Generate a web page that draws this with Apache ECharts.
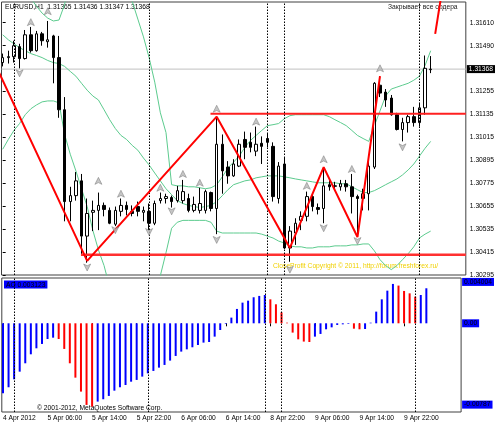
<!DOCTYPE html>
<html><head><meta charset="utf-8">
<script src="https://cdn.jsdelivr.net/npm/echarts@6/dist/echarts.min.js"></script>
<style>html,body{margin:0;padding:0;background:#fff}#c{width:497px;height:426px}</style>
</head><body><div id="c"></div>
<script>
// ---- price bars (bar index 0 = 4 Apr 2012 22:00, H1) ----
const opens = [
1.31402,1.31428,1.31433,1.31485,1.31423,1.31547,1.31464,1.31552,1.31511,1.31541,
1.31428,1.31156,1.30677,1.30708,1.30785,1.30497,1.30621,1.30631,1.30657,1.30631,
1.30559,1.30626,1.30657,1.30626,1.30651,1.30621,1.30626,1.30564,1.30682,1.30693,
1.30698,1.30682,1.30682,1.30693,1.30631,1.30631,1.30631,1.30724,1.30641,1.30976,
1.30857,1.30811,1.30862,1.31001,1.30986,1.30940,1.30981,1.31006,1.30965,1.30693,
1.30873,1.30435,1.30513,1.30579,1.30600,1.30703,1.30646,1.30641,1.30765,1.30759,
1.30754,1.30770,1.30754,1.30703,1.30693,1.30718,1.30857,1.31284,1.31248,1.31217,
1.31130,1.31053,1.31089,1.31120,1.31089,1.31166,1.31365];
const closes = [
1.31428,1.31433,1.31490,1.31423,1.31547,1.31464,1.31552,1.31516,1.31521,1.31428,
1.31156,1.30677,1.30708,1.30785,1.30497,1.30615,1.30631,1.30657,1.30636,1.30564,
1.30631,1.30657,1.30636,1.30615,1.30626,1.30631,1.30564,1.30667,1.30693,1.30703,
1.30677,1.30734,1.30729,1.30631,1.30662,1.30667,1.30729,1.30641,1.30976,1.30837,
1.30811,1.30873,1.30976,1.30960,1.30960,1.30976,1.30965,1.30986,1.30703,1.30862,
1.30435,1.30523,1.30564,1.30600,1.30703,1.30651,1.30636,1.30759,1.30754,1.30757,
1.30770,1.30754,1.30703,1.30693,1.30718,1.30862,1.31294,1.31243,1.31207,1.31130,
1.31053,1.31089,1.31120,1.31089,1.31166,1.31372,1.31368];
const lows = [
1.31382,1.31397,1.31402,1.31372,1.31418,1.31454,1.31459,1.31490,1.31480,1.31294,
1.31114,1.30574,1.30574,1.30682,1.30399,1.30358,1.30523,1.30528,1.30600,1.30559,
1.30549,1.30600,1.30605,1.30600,1.30600,1.30574,1.30528,1.30554,1.30667,1.30667,
1.30646,1.30672,1.30667,1.30621,1.30621,1.30615,1.30615,1.30626,1.30507,1.30718,
1.30770,1.30806,1.30857,1.30898,1.30934,1.30914,1.30873,1.30960,1.30677,1.30667,
1.30430,1.30363,1.30451,1.30528,1.30574,1.30626,1.30610,1.30564,1.30734,1.30734,
1.30734,1.30729,1.30615,1.30497,1.30631,1.30631,1.30847,1.31222,1.31171,1.31125,
1.31048,1.30991,1.31037,1.31068,1.31068,1.31130,1.31347];
const highs = [
1.31449,1.31464,1.31516,1.31500,1.31572,1.31588,1.31567,1.31562,1.31619,1.31547,
1.31541,1.31222,1.30754,1.30831,1.30821,1.30693,1.30682,1.30724,1.30672,1.30646,
1.30651,1.30693,1.30677,1.30657,1.30677,1.30651,1.30667,1.30682,1.30724,1.30718,
1.30708,1.30759,1.30790,1.30718,1.30703,1.30749,1.30739,1.30729,1.31120,1.31027,
1.30888,1.30898,1.31001,1.31042,1.31037,1.31068,1.31017,1.31032,1.30986,1.30883,
1.30909,1.30549,1.30590,1.30626,1.30729,1.30718,1.30667,1.30847,1.30795,1.30780,
1.30790,1.30790,1.30821,1.30713,1.30744,1.30883,1.31300,1.31331,1.31264,1.31233,
1.31140,1.31114,1.31130,1.31171,1.31192,1.31439,1.31436];

// ---- bands (green lines) ----
const bandUpper = [
1.31824,1.31814,1.31799,1.31783,1.31763,1.31737,1.31696,1.31660,1.31634,1.31619,
1.31624,1.31706,1.31850,1.31927,1.32030,1.32133,1.32184,1.32210,1.32210,1.32184,
1.32107,1.31979,1.31850,1.31721,1.31629,1.31536,1.31428,1.31300,1.31140,1.31037,
1.30765,1.30759,1.30759,1.30754,1.30754,1.30749,1.30744,1.30749,1.30765,1.30806,
1.30852,1.30883,1.30914,1.30960,1.30996,1.31022,1.31048,1.31073,1.31078,1.31084,
1.31109,1.31125,1.31130,1.31130,1.31130,1.31130,1.31130,1.31130,1.31120,1.31104,
1.31089,1.31073,1.31048,1.31022,1.31006,1.30991,1.31073,1.31150,1.31228,1.31264,
1.31274,1.31284,1.31294,1.31310,1.31331,1.31387,1.31464];
const bandMiddle = [
1.31547,1.31521,1.31500,1.31480,1.31464,1.31449,1.31439,1.31428,1.31413,1.31402,
1.31397,1.31382,1.31356,1.31331,1.31294,1.31258,1.31228,1.31207,1.31156,1.31104,
1.31058,1.31022,1.31001,1.30970,1.30945,1.30904,1.30868,1.30826,1.30785,1.30744,
1.30713,1.30682,1.30667,1.30657,1.30651,1.30646,1.30651,1.30657,1.30677,1.30708,
1.30739,1.30765,1.30775,1.30785,1.30790,1.30801,1.30806,1.30811,1.30811,1.30811,
1.30806,1.30801,1.30795,1.30790,1.30785,1.30780,1.30775,1.30775,1.30775,1.30775,
1.30770,1.30770,1.30754,1.30739,1.30724,1.30724,1.30734,1.30749,1.30765,1.30780,
1.30795,1.30816,1.30842,1.30873,1.30914,1.30955,1.30991];
const bandLower = [
1.30950,1.31001,1.31048,1.31084,1.31130,1.31161,1.31181,1.31197,1.31202,1.31202,
1.31192,1.31027,1.30924,1.30837,1.30744,1.30651,1.30528,1.30425,1.30343,1.30230,
1.30127,1.30024,1.29947,1.29895,1.29880,1.29921,1.29998,1.30127,1.30291,1.30410,
1.30538,1.30569,1.30579,1.30579,1.30579,1.30579,1.30579,1.30569,1.30523,1.30513,
1.30513,1.30513,1.30513,1.30513,1.30513,1.30513,1.30507,1.30497,1.30487,1.30471,
1.30461,1.30446,1.30441,1.30441,1.30435,1.30435,1.30441,1.30441,1.30441,1.30446,
1.30446,1.30446,1.30451,1.30451,1.30456,1.30456,1.30420,1.30374,1.30343,1.30322,
1.30343,1.30374,1.30405,1.30441,1.30487,1.30507,1.30523];

// ---- Awesome Oscillator ----
const aoValues = [
-0.00677,-0.00619,-0.00542,-0.00468,-0.00387,-0.00300,-0.00242,-0.00200,-0.00152,-0.00139,
-0.00152,-0.00248,-0.00387,-0.00526,-0.00661,-0.00790,-0.00806,-0.00758,-0.00735,-0.00703,
-0.00652,-0.00619,-0.00597,-0.00565,-0.00548,-0.00516,-0.00484,-0.00461,-0.00429,-0.00403,
-0.00361,-0.00316,-0.00274,-0.00252,-0.00232,-0.00210,-0.00187,-0.00181,-0.00129,-0.00065,
-0.00006,0.00055,0.00139,0.00200,0.00219,0.00252,0.00265,0.00274,0.00232,0.00184,
0.00106,0.00006,-0.00090,-0.00155,-0.00177,-0.00181,-0.00129,-0.00103,-0.00058,-0.00039,
-0.00016,-0.00010,-0.00006,-0.00052,-0.00058,-0.00055,0.00006,0.00113,0.00232,0.00316,
0.00381,0.00365,0.00313,0.00290,0.00258,0.00274,0.00339];

// ---- ZigZag, levels, fractals ----
const zigzag = [[-1,1.31372],[15,1.30368],[38,1.31120],[51,1.30435],[57,1.30857],[63,1.30492],[67,1.31331]];
const zigzagTail = [[76.8,1.31552],[77.8,1.31737]];
const resistanceLevel = 1.31135, resistanceFrom = 36.9;
const supportLevel = 1.30400, supportFrom = 13.9;
const bidPrice = 1.31368;
const upFractals = [[5,1.31613],[8,1.31670],[17,1.30785],[21,1.30718],[28,1.30749],[32,1.30821],[35,1.30775],[38,1.31161],[45,1.31094],[54,1.30759],[57,1.30898],[62,1.30847],[67,1.31372]];
const downFractals = [[3,1.31346],[15,1.30333],[20,1.30528],[26,1.30518],[30,1.30626],[38,1.30477],[51,1.30322],[57,1.30538],[63,1.30471],[71,1.30960]];
const separators = [2,26,47,50,74];

// ---- axis ticks ----
const tickBars = [0,8,16,24,32,40,48,56,64,72];
const tickLabels = ['4 Apr 2012','5 Apr 06:00','5 Apr 14:00','5 Apr 22:00','6 Apr 06:00','6 Apr 14:00','8 Apr 22:00','9 Apr 06:00','9 Apr 14:00','9 Apr 22:00'];
const priceTicks = [1.30295,1.30415,1.30535,1.30655,1.30775,1.30895,1.31015,1.31135,1.31255,1.31490,1.31610];
const aoTicks = [-0.00787,0,0.004004];
const aoTickLabels = ['-0.00787','0.00','0.004004'];
const headerText = 'EURUSD,H1  1.31365 1.31436 1.31347 1.31368';
const aoText = 'AO 0.003123';

const FONT = '"Liberation Sans", Arial, sans-serif';
const FS = 6.7;
const X_MIN = -0.21, X_MAX = 82.24;
const PRICE_MIN = 1.30294, PRICE_MAX = 1.31718;
const AO_MIN = -0.008584, AO_MAX = 0.004384;

const candles = opens.map((o,i)=>[i,o,closes[i],lows[i],highs[i]]);
const lineOf = arr => arr.map((v,i)=>[i,v]);
const aoData = aoValues.map((v,i)=>({value:[i,v], itemStyle:{color:(i===0||v>aoValues[i-1])?'#0000ff':'#ff0000'}}));
const sepLines = separators.map(i=>({xAxis:i}));
const sepStyle = {color:'#000', type:[1.5,1.5], width:1};
const arrowPath = 'path://M4,0 L8,8 L4,6 L0,8 Z';

const chart = echarts.init(document.getElementById('c'), null, {renderer:'canvas'});
chart.setOption({
  animation:false,
  backgroundColor:'#fff',
  textStyle:{fontFamily:FONT},
  grid:[
    {left:1.5, top:2, width:467.5, height:273, show:true, borderColor:'#404040', borderWidth:1, backgroundColor:'#fff'},
    {left:1.5, top:278, width:467.5, height:134, show:true, borderColor:'#404040', borderWidth:1, backgroundColor:'#fff'}
  ],
  xAxis:[
    {type:'value', gridIndex:0, min:X_MIN, max:X_MAX, show:false},
    {type:'value', gridIndex:1, min:X_MIN, max:X_MAX, splitLine:{show:false}, axisLine:{show:false},
     axisTick:{show:true, customValues:tickBars, length:3, lineStyle:{color:'#000'}},
     axisLabel:{customValues:tickBars, formatter:v=>tickLabels[tickBars.indexOf(Math.round(v))], align:'left',
       fontSize:FS, fontFamily:FONT, color:'#000', margin:3}}
  ],
  yAxis:[
    {type:'value', gridIndex:0, position:'right', min:PRICE_MIN, max:PRICE_MAX, splitLine:{show:false}, axisLine:{show:false},
     axisTick:{show:true, customValues:priceTicks, length:3, lineStyle:{color:'#000'}},
     axisLabel:{customValues:priceTicks, formatter:v=>v.toFixed(5), fontSize:FS, fontFamily:FONT, color:'#000', margin:4}},
    {type:'value', gridIndex:1, position:'right', min:AO_MIN, max:AO_MAX, splitLine:{show:false}, axisLine:{show:false},
     axisTick:{show:false},
     axisLabel:{customValues:aoTicks, formatter:v=>{const k=aoTicks.findIndex(t=>Math.abs(t-v)<1e-7);return k>=0?aoTickLabels[k]:'';},
       fontSize:FS, fontFamily:FONT, color:'#000', margin:1, backgroundColor:'#0000ff', padding:[1,2,0,2]}}
  ],
  series:[
    {type:'line', xAxisIndex:0, yAxisIndex:0, data:[[X_MIN,bidPrice],[X_MAX,bidPrice]], symbol:'none', clip:false,
     lineStyle:{color:'#c0c0c0', width:1}, z:1,
     endLabel:{show:true, formatter:bidPrice.toFixed(5), backgroundColor:'#000', color:'#fff', distance:1,
       fontSize:FS, fontFamily:FONT, padding:[1,2,0,2]},
     markLine:{silent:true, symbol:'none', animation:false, lineStyle:sepStyle, label:{show:false}, data:sepLines}},
    {type:'line', xAxisIndex:0, yAxisIndex:0, data:lineOf(bandUpper), showSymbol:false, symbol:'none', lineStyle:{color:'#5ccb8e', width:1}, clip:true, z:2},
    {type:'line', xAxisIndex:0, yAxisIndex:0, data:lineOf(bandMiddle), showSymbol:false, symbol:'none', lineStyle:{color:'#5ccb8e', width:1}, clip:true, z:2},
    {type:'line', xAxisIndex:0, yAxisIndex:0, data:lineOf(bandLower), showSymbol:false, symbol:'none', lineStyle:{color:'#5ccb8e', width:1}, clip:true, z:2},
    {type:'candlestick', xAxisIndex:0, yAxisIndex:0, data:candles, encode:{x:0, y:[1,2,3,4]}, barWidth:3, clip:true, z:3,
     itemStyle:{color:'#fff', color0:'#000', borderColor:'#000', borderColor0:'#000', borderWidth:1}},
    {type:'line', xAxisIndex:0, yAxisIndex:0, data:[[resistanceFrom,resistanceLevel],[X_MAX,resistanceLevel]], symbol:'none', lineStyle:{color:'#ff2020', width:2}, z:4},
    {type:'line', xAxisIndex:0, yAxisIndex:0, data:[[supportFrom,supportLevel],[X_MAX,supportLevel]], symbol:'none', lineStyle:{color:'#ff3030', width:2.5}, z:4},
    {type:'line', xAxisIndex:0, yAxisIndex:0, data:zigzag, symbol:'none', clip:true, lineStyle:{color:'#ff0000', width:2}, z:5},
    {type:'line', xAxisIndex:0, yAxisIndex:0, data:zigzagTail, symbol:'none', clip:true, lineStyle:{color:'#ff0000', width:2}, z:5},
    {type:'scatter', xAxisIndex:0, yAxisIndex:0, data:upFractals, symbol:arrowPath, symbolSize:[7,7], z:6,
     itemStyle:{color:'#b8b8b8', borderColor:'#707070', borderWidth:0.6}},
    {type:'scatter', xAxisIndex:0, yAxisIndex:0, data:downFractals, symbol:arrowPath, symbolRotate:180, symbolSize:[7,7], z:6,
     itemStyle:{color:'#b8b8b8', borderColor:'#707070', borderWidth:0.6}},
    {type:'bar', xAxisIndex:1, yAxisIndex:1, data:aoData, barWidth:2, z:3,
     markLine:{silent:true, symbol:'none', animation:false, lineStyle:sepStyle, label:{show:false}, data:sepLines}}
  ],
  graphic:[
    {type:'text', left:5, top:3.5, style:{text:headerText, font:FS+'px '+FONT, fill:'#000'}},
    {type:'text', left:388, top:4, style:{text:'Закрывает все ордера', font:FS+'px '+FONT, fill:'#202020'}},
    {type:'text', left:273, top:262.5, style:{text:'CloseProfit Copyright © 2011, http://forum.freshforex.ru/', font:FS+'px '+FONT, fill:'#f0d000'}},
    {type:'text', left:37, top:404.5, style:{text:'© 2001-2012, MetaQuotes Software Corp.', font:FS+'px '+FONT, fill:'#000'}},
    {type:'text', left:4, top:280.5, style:{text:aoText, font:FS+'px '+FONT, fill:'#000', backgroundColor:'#0000ff', padding:[1,2,0,2]}}
  ]
});
</script>
</body></html>
